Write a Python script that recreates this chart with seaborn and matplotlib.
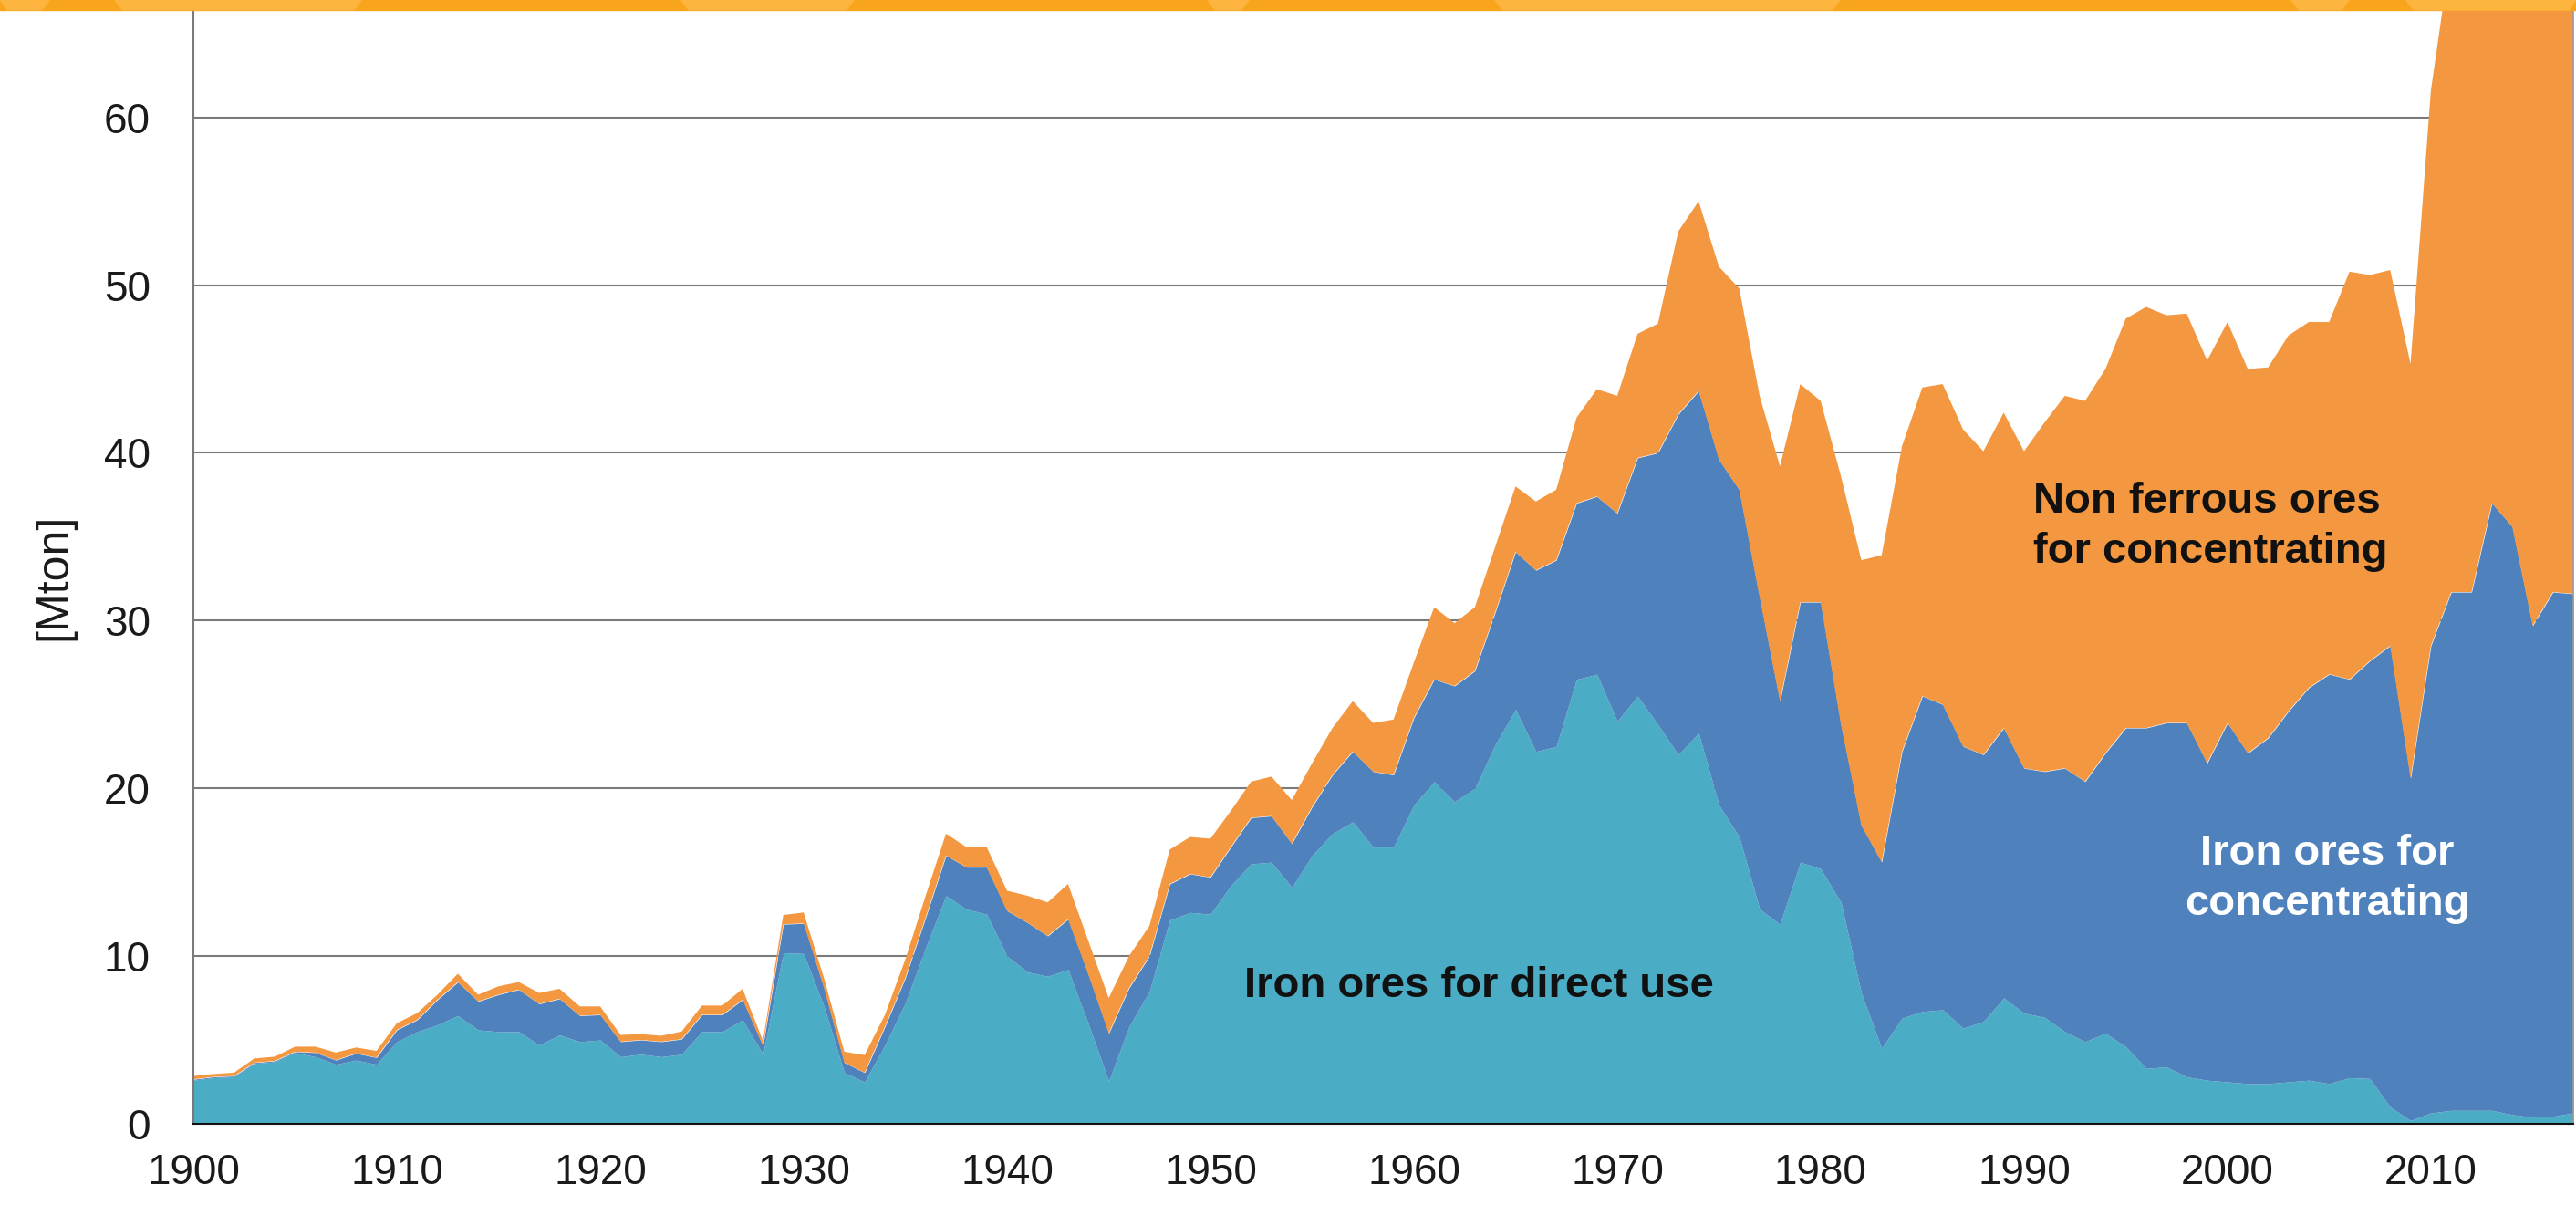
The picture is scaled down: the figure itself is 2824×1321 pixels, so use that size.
import matplotlib
matplotlib.use("Agg")
import seaborn as sns
import matplotlib.pyplot as plt
from matplotlib.patches import Rectangle, Polygon
from matplotlib.ticker import MultipleLocator

# production per year [Mton]
years = list(range(1900, 2018))

direct_use = [
    2.6, 2.75, 2.8, 3.6, 3.7, 4.25, 4.0, 3.55, 3.8, 3.55,
    4.9, 5.5, 5.9, 6.45, 5.6, 5.5, 5.5, 4.7, 5.3, 4.9,
    5.0, 4.0, 4.15, 4.0, 4.15, 5.5, 5.5, 6.2, 4.15, 10.2,
    10.15, 7.0, 3.05, 2.5, 4.7, 7.2, 10.5, 13.6, 12.8, 12.5,
    10.0, 9.05, 8.8, 9.2, 5.95, 2.55, 5.8, 7.9, 12.15, 12.6,
    12.5, 14.2, 15.5, 15.6, 14.1, 16.0, 17.3, 18.0, 16.5, 16.5,
    19.0, 20.4, 19.2, 20.0, 22.6, 24.7, 22.2, 22.5, 26.5, 26.8,
    24.0, 25.5, 23.8, 22.0, 23.3, 19.0, 17.1, 12.8, 11.9, 15.6,
    15.2, 13.2, 7.8, 4.5, 6.3, 6.7, 6.8, 5.7, 6.1, 7.5,
    6.6, 6.35, 5.5, 4.9, 5.4, 4.6, 3.3, 3.4, 2.8, 2.6,
    2.5, 2.4, 2.4, 2.5, 2.6, 2.4, 2.75, 2.7, 1.0, 0.2,
    0.65, 0.8, 0.8, 0.8, 0.55, 0.4, 0.45, 0.65,
]

iron_conc = [
    0.05, 0.05, 0.05, 0.05, 0.05, 0.05, 0.25, 0.25, 0.4, 0.4,
    0.7, 0.7, 1.5, 2.0, 1.7, 2.2, 2.5, 2.45, 2.15, 1.55,
    1.5, 0.9, 0.85, 0.9, 0.9, 1.0, 1.0, 1.2, 0.5, 1.7,
    1.8, 1.1, 0.6, 0.55, 1.1, 1.5, 1.8, 2.4, 2.5, 2.8,
    2.7, 2.95, 2.4, 3.0, 2.95, 2.85, 2.3, 2.1, 2.15, 2.3,
    2.2, 2.3, 2.75, 2.75, 2.6, 2.9, 3.5, 4.2, 4.5, 4.3,
    5.2, 6.1, 6.9, 7.0, 7.9, 9.4, 10.8, 11.1, 10.5, 10.6,
    12.4, 14.2, 16.2, 20.3, 20.4, 20.6, 20.7, 18.6, 13.3, 15.5,
    15.9, 10.6, 10.0, 11.1, 15.9, 18.8, 18.2, 16.8, 15.9, 16.1,
    14.6, 14.65, 15.7, 15.5, 16.7, 19.0, 20.3, 20.5, 21.1, 18.9,
    21.4, 19.7, 20.6, 22.1, 23.4, 24.4, 23.75, 24.9, 27.5, 20.4,
    27.85, 30.9, 30.9, 36.2, 35.05, 29.3, 31.25, 30.95,
]

non_ferrous = [
    0.2, 0.17, 0.2, 0.25, 0.25, 0.3, 0.35, 0.45, 0.35, 0.4,
    0.4, 0.4, 0.3, 0.5, 0.4, 0.5, 0.45, 0.65, 0.6, 0.55,
    0.5, 0.4, 0.35, 0.35, 0.45, 0.55, 0.55, 0.65, 0.3, 0.55,
    0.65, 0.6, 0.65, 1.05, 0.7, 1.1, 1.3, 1.3, 1.2, 1.2,
    1.2, 1.6, 2.0, 2.1, 2.0, 2.1, 1.9, 1.8, 2.05, 2.2,
    2.3, 2.15, 2.15, 2.35, 2.6, 2.6, 2.8, 3.0, 2.9, 3.3,
    3.3, 4.3, 3.75, 3.8, 3.9, 3.9, 4.1, 4.2, 5.1, 6.4,
    7.0, 7.4, 7.7, 10.9, 11.3, 11.5, 12.0, 12.0, 14.0, 13.0,
    12.0, 14.8, 15.8, 18.3, 18.2, 18.4, 19.1, 18.9, 18.1, 18.8,
    18.9, 20.8, 22.2, 22.7, 22.9, 24.4, 25.1, 24.3, 24.4, 24.0,
    23.9, 22.9, 22.1, 22.4, 21.8, 21.0, 24.3, 23.0, 22.4, 24.7,
    33.1, 38.3, 41.3, 39.0, 42.4, 50.3, 50.3, 52.4,
]

y_ticks = [0, 10, 20, 30, 40, 50, 60]

sns.set_style("white")
plt.rcParams['font.family'] = ['Liberation Sans', 'DejaVu Sans']
colors = sns.color_palette(["#4BACC6", "#4F81BD", "#F39740"])

W, H = 2824, 1321
fig = plt.figure(figsize=(W / 100, H / 100), dpi=100)
ax = fig.add_axes([212 / W, 1 - 1232 / H, (2821 - 212) / W, (1232 - 11) / H])

# grid lines behind the areas
for v in y_ticks[1:]:
    ax.axhline(v, color="#7a7a7a", lw=1.5, zorder=0.5)

ax.stackplot(years, direct_use, iron_conc, non_ferrous, colors=colors,
             linewidth=0, zorder=1)

ax.set_xlim(1900, 2017)
ax.set_ylim(0, 66.4)
ax.xaxis.set_major_locator(MultipleLocator(10))
ax.xaxis.set_minor_locator(MultipleLocator(5))
ax.set_yticks(y_ticks)

ax.tick_params(axis='x', which='both', direction='inout', length=23, width=1.5,
               color='#505050', labelsize=33, labelcolor='#1a1a1a', pad=11.5)
ax.tick_params(axis='y', direction='out', length=10, width=1.4,
               color='#7a7a7a', labelsize=33, labelcolor='#1a1a1a', pad=24)

ax.spines['top'].set_visible(False)
ax.spines['left'].set_color('#7a7a7a')
ax.spines['left'].set_linewidth(1.5)
ax.spines['right'].set_color('#9a9a9a')
ax.spines['right'].set_linewidth(1.2)
ax.spines['bottom'].set_color('#111111')
ax.spines['bottom'].set_linewidth(1.5)

ax.set_ylabel('[Mton]', fontsize=36, color='#1a1a1a')
ax.yaxis.set_label_coords(-0.0498, 0.491)

ax.text(1963.2, 8.2, 'Iron ores for direct use', fontsize=34, fontweight='bold',
        color='#111111', ha='center', va='center', zorder=3)
ax.text(1990.45, 35.6, 'Non ferrous ores\nfor concentrating', fontsize=34,
        fontweight='bold', color='#111111', ha='left', va='center',
        linespacing=1.32, zorder=3)
ax.text(2004.9, 14.6, 'Iron ores for\nconcentrating', fontsize=34,
        fontweight='bold', color='white', ha='center', va='center',
        linespacing=1.3, zorder=3)

# decorative banner along the top edge
bh = 11 / H
fig.add_artist(Rectangle((0, 1 - bh), 1, bh, transform=fig.transFigure,
                         color='#F9A51C', zorder=10))
for x0, x1 in [(0, 54), (126, 396), (747, 936), (1324, 1369),
               (1639, 2017), (2512, 2575), (2638, 2824)]:
    pts = [(x0 / W, 1), (x1 / W, 1), ((x1 - 8) / W, 1 - bh), ((x0 + 8) / W, 1 - bh)]
    fig.add_artist(Polygon(pts, closed=True, transform=fig.transFigure,
                           color='#FDB540', zorder=11))

fig.savefig("out.png", dpi=100)
